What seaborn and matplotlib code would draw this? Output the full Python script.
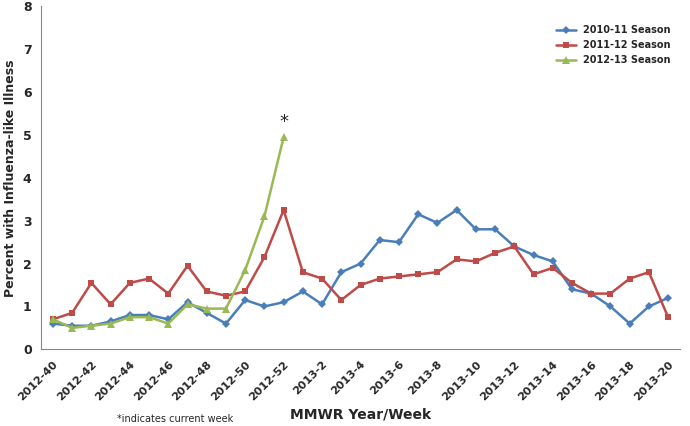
import matplotlib
matplotlib.use("Agg")
import matplotlib.pyplot as plt
import seaborn as sns
import pandas as pd

weeks = [f"2012-{w}" for w in range(40, 53)] + [f"2013-{w}" for w in range(1, 21)]
s1011 = [0.6,0.55,0.55,0.65,0.8,0.8,0.7,1.1,0.85,0.6,1.15,1.0,1.1,1.35,1.05,1.8,2.0,2.55,2.5,3.15,2.95,3.25,2.8,2.8,2.4,2.2,2.05,1.4,1.3,1.0,0.6,1.0,1.2]
s1112 = [0.7,0.85,1.55,1.05,1.55,1.65,1.3,1.95,1.35,1.25,1.35,2.15,3.25,1.8,1.65,1.15,1.5,1.65,1.7,1.75,1.8,2.1,2.05,2.25,2.4,1.75,1.9,1.55,1.3,1.3,1.65,1.8,0.75]
s1213 = [0.7,0.5,0.55,0.6,0.75,0.75,0.6,1.05,0.95,0.95,1.85,3.1,4.95]

sns.set_style("white")
fig, ax = plt.subplots(figsize=(6.9, 4.26), dpi=100)
x = list(range(len(weeks)))
sns.lineplot(x=x, y=s1011, ax=ax, color="#4a7ebb", marker="D", markersize=4, markeredgewidth=0, lw=1.8, label="2010-11 Season")
sns.lineplot(x=x, y=s1112, ax=ax, color="#be4b48", marker="s", markersize=5, markeredgewidth=0, lw=1.8, label="2011-12 Season")
sns.lineplot(x=x[:len(s1213)], y=s1213, ax=ax, color="#98b954", marker="^", markersize=6, markeredgewidth=0, lw=1.8, label="2012-13 Season")
ax.text(12, 5.1, "*", ha="center", va="bottom", fontsize=13)
ax.set_ylim(0, 8)
ax.set_xlim(-0.6, len(weeks) - 0.4)
ax.set_xticks(x[::2])
ax.set_xticklabels(weeks[::2], rotation=45, ha="right", rotation_mode="anchor", fontsize=8, fontweight="bold")
ax.tick_params(axis="y", labelsize=9)
for t in ax.get_yticklabels():
    t.set_fontweight("bold")
ax.set_ylabel("Percent with Influenza-like Illness", fontsize=9, fontweight="bold")
ax.set_xlabel("MMWR Year/Week", fontsize=10, fontweight="bold")
sns.despine(ax=ax)
for s in ["left", "bottom"]:
    ax.spines[s].set_color("#888888")
ax.legend(frameon=False, loc="upper right", fontsize=7, prop={"weight": "bold", "size": 7}, bbox_to_anchor=(1.0, 0.97))
fig.text(0.17, 0.01, "*indicates current week", fontsize=7)
fig.subplots_adjust(left=0.06, right=0.985, top=0.985, bottom=0.18)
fig.savefig("out.png", dpi=100)
